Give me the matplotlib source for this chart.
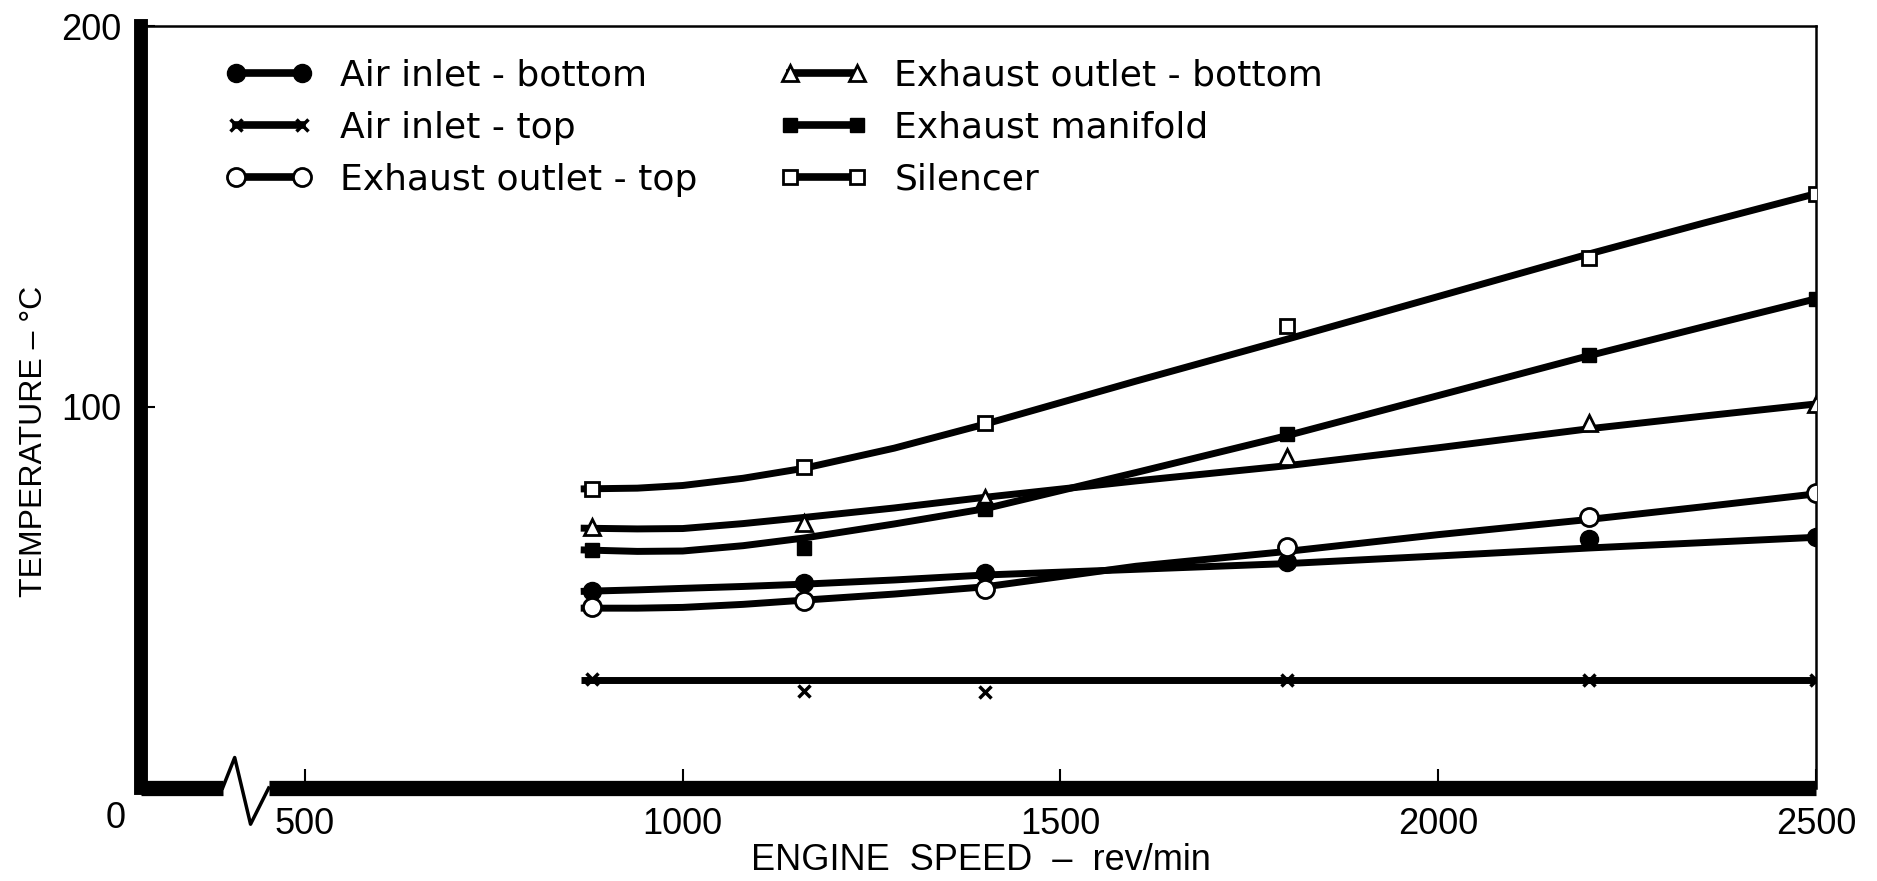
import matplotlib

matplotlib.use("Agg")
import matplotlib.pyplot as plt

# measured points (engine speed, rev/min)
speed = [880, 1160, 1400, 1800, 2200, 2500]
air_bottom = [51.7, 53.7, 56.3, 59.4, 65.3, 65.9]
air_top = [28.5, 25.5, 25.2, 28.3, 28.3, 28.3]
outlet_top = [47.5, 49.2, 52.2, 63.3, 71.0, 77.5]
outlet_bottom = [68.5, 69.6, 76.2, 87.0, 95.8, 100.8]
manifold = [62.4, 62.9, 73.1, 93.0, 113.6, 128.4]
silencer = [78.6, 84.2, 95.8, 121.2, 139.0, 156.0]

# hand-drawn curves through the points
curve_speed = [865, 940, 1000, 1080, 1160, 1280, 1400, 1600, 1800, 2000, 2200, 2350, 2500]
air_bottom_c = [51.6, 52.0, 52.4, 52.9, 53.5, 54.6, 55.9, 57.4, 58.9, 60.9, 63.0, 64.4, 65.8]
outlet_top_c = [47.2, 47.2, 47.4, 48.2, 49.3, 50.9, 52.8, 58.2, 62.1, 66.5, 70.5, 73.8, 77.2]
outlet_bottom_c = [68.2, 68.0, 68.1, 69.4, 71.0, 73.5, 76.3, 80.6, 84.6, 89.3, 94.3, 97.6, 100.8]
manifold_c = [62.5, 62.1, 62.2, 63.6, 65.6, 69.3, 73.3, 82.8, 92.5, 103.0, 113.5, 121.0, 128.4]
silencer_c = [78.5, 78.7, 79.4, 81.3, 83.9, 89.2, 95.5, 106.8, 117.8, 129.0, 140.2, 148.2, 156.0]
air_top_speed = [865, 2500]
air_top_c = [28.4, 28.4]

labels = ["Air inlet - bottom", "Air inlet - top", "Exhaust outlet - top",
          "Exhaust outlet - bottom", "Exhaust manifold", "Silencer"]
xticks = [500, 1000, 1500, 2000, 2500]
yticks = [100, 200]

fig = plt.figure(figsize=(18.77, 8.81), dpi=100)
ax = fig.add_axes([141 / 1877, 93 / 881, 1675 / 1877, 762 / 881])
ax.set_xlim(283, 2500)
ax.set_ylim(0, 200)

series = [
    (air_bottom, curve_speed, air_bottom_c, dict(marker="o", ms=13, mfc="black")),
    (air_top, air_top_speed, air_top_c, dict(marker="x", ms=9, mew=2.5)),
    (outlet_top, curve_speed, outlet_top_c, dict(marker="o", ms=13, mfc="white", mew=2)),
    (outlet_bottom, curve_speed, outlet_bottom_c, dict(marker="^", ms=11, mfc="white", mew=2)),
    (manifold, curve_speed, manifold_c, dict(marker="s", ms=10.5, mfc="black")),
    (silencer, curve_speed, silencer_c, dict(marker="s", ms=10.5, mfc="white", mew=2)),
]

handles = []
for (pts, cx, cy, mk), lab in zip(series, labels):
    ax.plot(cx, cy, color="black", lw=5, solid_capstyle="butt", solid_joinstyle="round", zorder=2)
    ax.plot(speed, pts, ls="none", color="black", mec="black", zorder=3, **mk)
    h, = ax.plot([], [], color="black", lw=5.5, mec="black", label=lab, **mk)
    handles.append(h)

leg = ax.legend(handles=handles, ncol=2, loc="upper left", bbox_to_anchor=(0.050, 0.957),
                frameon=False, numpoints=2, handlelength=2.45, handletextpad=0.75,
                columnspacing=2.25, labelspacing=0.5, borderpad=0, borderaxespad=0,
                prop={"family": "DejaVu Sans", "size": 26})

# axes frame: heavy left/bottom, thin top/right, broken x axis
for side in ("top", "right"):
    ax.spines[side].set_linewidth(1.8)
ax.spines["left"].set_linewidth(10)
ax.spines["bottom"].set_visible(False)
ax.plot([283, 391], [0, 0], color="black", lw=11, solid_capstyle="butt", clip_on=False, zorder=5)
ax.plot([452, 2500], [0, 0], color="black", lw=11, solid_capstyle="butt", clip_on=False, zorder=5)
ax.plot([391, 407, 428, 452], [0, 8, -9.5, 0], color="black", lw=2.5, clip_on=False, zorder=5)

ax.set_xticks(xticks)
ax.set_yticks(yticks)
ax.tick_params(axis="x", direction="in", length=14, width=1.5, pad=14, labelsize=26)
ax.tick_params(axis="y", direction="in", length=10, width=1.5, pad=14, labelsize=26)
for t in ax.get_xticklabels() + ax.get_yticklabels():
    t.set_family("Liberation Sans")

fig.text(116 / 1877, 1 - 818 / 881, "0", ha="center", va="center",
         fontsize=26, family="Liberation Sans")
fig.text(981 / 1877, 1 - 860 / 881, "ENGINE  SPEED  \u2013  rev/min", ha="center", va="center",
         fontsize=26, family="Liberation Sans")
fig.text(34 / 1877, 1 - 441 / 881, "TEMPERATURE \u2013 \u00b0C", ha="center", va="center",
         rotation=90, fontsize=23, family="Liberation Sans")

fig.savefig("out.png", dpi=100)
